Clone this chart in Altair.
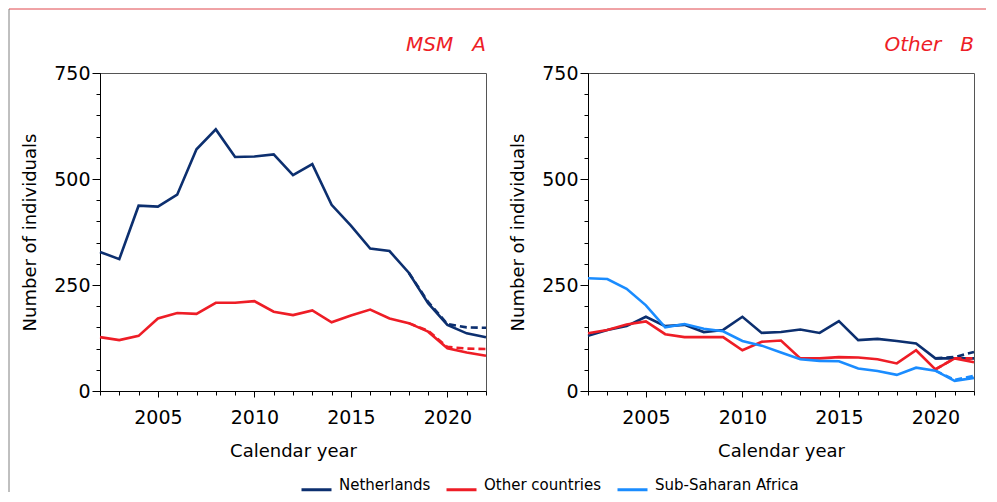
import altair as alt
import pandas as pd

years = list(range(2002, 2023))
groups = ["Netherlands", "Other countries", "Sub-Saharan Africa"]
colors = ["#0c2f6f", "#ee1d26", "#1a8cff"]

# Panel A: MSM
msm_nl = [328, 311, 437, 435, 463, 570, 617, 552, 553, 558, 509, 535, 439, 390, 336, 330, 279, 207, 156, 136, 127]
msm_oc = [127, 120, 130, 171, 184, 182, 208, 208, 212, 187, 179, 190, 162, 178, 192, 171, 160, 140, 101, 91, 83]
msm_dash_years = [2018, 2019, 2020, 2021, 2022]
msm_nl_dash = [279, 210, 158, 150, 149]
msm_oc_dash = [160, 142, 104, 100, 99]

# Panel B: Other
oth_nl = [130, 144, 153, 175, 153, 156, 139, 144, 175, 137, 139, 145, 137, 165, 120, 123, 118, 112, 77, 77, 77]
oth_oc = [136, 144, 157, 164, 134, 127, 127, 127, 96, 116, 119, 77, 77, 80, 79, 75, 65, 96, 51, 77, 68]
oth_ssa = [266, 264, 241, 202, 150, 158, 147, 141, 118, 107, 91, 75, 71, 70, 53, 47, 38, 55, 48, 24, 31]
oth_dash_years = [2020, 2021, 2022]
oth_nl_dash = [77, 80, 92]
oth_oc_dash = [51, 77, 77]
oth_ssa_dash = [48, 26, 36]

major_x = [2005, 2010, 2015, 2020]
minor_x = years
major_y = [0, 250, 500, 750]
minor_y = list(range(0, 751, 50))

FONT = "DejaVu Sans"


def long_df(yrs, series):
    rows = []
    for g, vals in series.items():
        for y, v in zip(yrs, vals):
            rows.append({"year": y, "value": v, "group": g})
    return pd.DataFrame(rows)


color_scale = alt.Scale(domain=groups, range=colors)
xs = alt.Scale(domain=[2002, 2022], nice=False, zero=False)
ys = alt.Scale(domain=[0, 750], nice=False)


def panel(solid_df, dash_df, title, title_offset, decor=False):
    base_solid = alt.Chart(solid_df).mark_line(strokeWidth=2.6).encode(
        x=alt.X("year:Q", scale=xs,
                axis=alt.Axis(values=major_x, format="d", title="Calendar year",
                              tickSize=6, labelPadding=11, titlePadding=15,
                              orient="bottom", grid=False,
                              domainColor="black", tickColor="black")),
        y=alt.Y("value:Q", scale=ys,
                axis=alt.Axis(values=major_y, title="Number of individuals",
                              tickSize=8, labelPadding=2, orient="left", grid=False,
                              titlePadding=14, domainColor="black", tickColor="black")),
        color=alt.Color("group:N", scale=color_scale, legend=alt.Legend(title=None)),
        detail="group:N",
    )
    dashed = alt.Chart(dash_df).mark_line(strokeWidth=2.6, strokeDash=[7, 4]).encode(
        x=alt.X("year:Q", scale=xs, axis=None),
        y=alt.Y("value:Q", scale=ys, axis=None),
        color=alt.Color("group:N", scale=color_scale, legend=None),
    )
    minor = alt.Chart(solid_df).mark_line(opacity=0).encode(
        x=alt.X("year:Q", scale=xs,
                axis=alt.Axis(values=minor_x, labels=False, tickSize=4, domain=False,
                              title=None, orient="bottom", grid=False, tickColor="black")),
        y=alt.Y("value:Q", scale=ys,
                axis=alt.Axis(values=minor_y, labels=False, tickSize=4, domain=False,
                              title=None, orient="left", grid=False, tickColor="black")),
        detail="group:N",
    )
    layers = [minor, base_solid, dashed]
    if decor:
        one = pd.DataFrame({"k": [0]})
        top_rule = alt.Chart(one).mark_rule(color="#e0474c", strokeWidth=1).encode(
            x=alt.value(-91), x2=alt.value(886), y=alt.value(-64))
        left_rule = alt.Chart(one).mark_rule(color="#808080", strokeWidth=1).encode(
            x=alt.value(-91), y=alt.value(-64), y2=alt.value(419))
        layers += [top_rule, left_rule]
    return alt.layer(*layers).resolve_axis(x="independent", y="independent").properties(
        width=386, height=318,
        title=alt.TitleParams(text=title, anchor="end", frame="group", color="#ee1d26",
                              fontStyle="italic", fontSize=20, font=FONT,
                              fontWeight="normal", offset=title_offset),
    )


left_solid = long_df(years, {"Netherlands": msm_nl, "Other countries": msm_oc})
left_dash = long_df(msm_dash_years, {"Netherlands": msm_nl_dash, "Other countries": msm_oc_dash})
right_solid = long_df(years, {"Netherlands": oth_nl, "Other countries": oth_oc,
                              "Sub-Saharan Africa": oth_ssa})
right_dash = long_df(oth_dash_years, {"Netherlands": oth_nl_dash, "Other countries": oth_oc_dash,
                                      "Sub-Saharan Africa": oth_ssa_dash})

left = panel(left_solid, left_dash, "MSM\u00a0\u00a0\u00a0A", -46, decor=True)
right = panel(right_solid, right_dash, "Other\u00a0\u00a0\u00a0B", 9)

chart = alt.hconcat(left, right, spacing=102, bounds="flush").properties(
    padding={"left": 0, "top": 0, "right": 0, "bottom": 0}
).configure_view(stroke="#555555", strokeWidth=1).configure_axis(
    labelFont=FONT, labelFontSize=19, labelColor="black",
    titleFont=FONT, titleFontSize=18, titleFontWeight="normal", titleColor="black",
).configure_legend(
    orient="none", legendX=200, legendY=400, direction="horizontal",
    symbolType="stroke", symbolSize=900, symbolStrokeWidth=3,
    labelFont=FONT, labelFontSize=15, labelColor="black", labelBaseline="alphabetic",
    labelOffset=6, columnPadding=9, padding=0, titlePadding=0,
)

chart.save("out.html", embed_options={"renderer": "svg", "actions": False})
